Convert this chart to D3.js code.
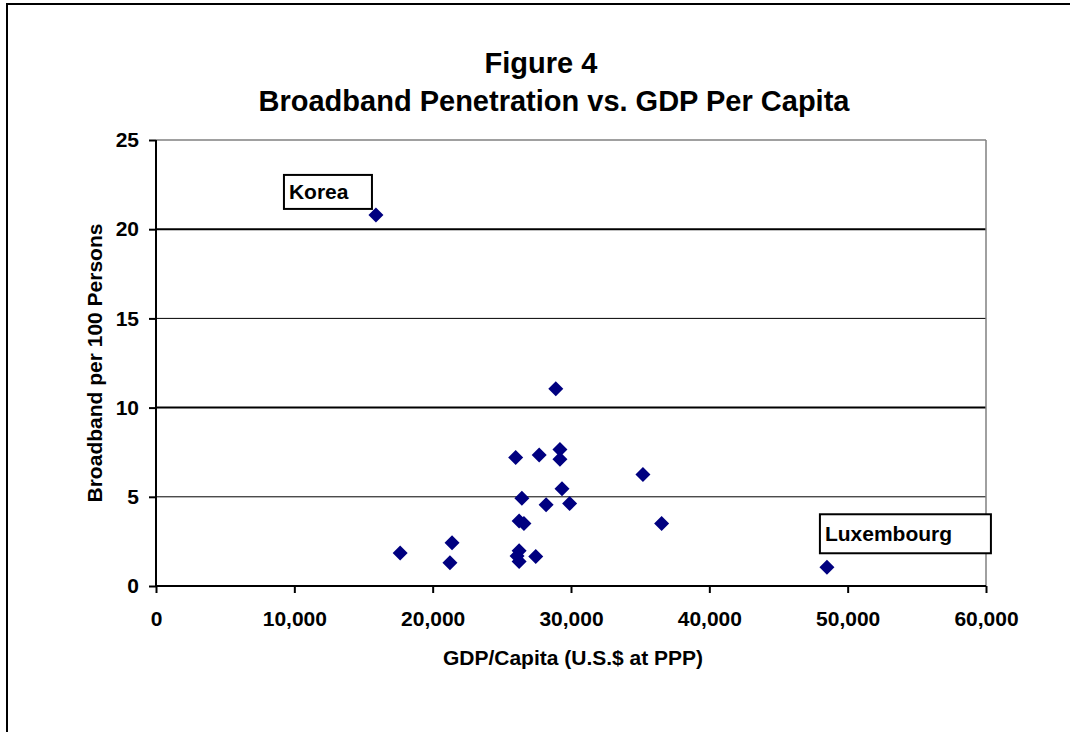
<!DOCTYPE html>
<html>
<head>
<meta charset="utf-8">
<script src="https://cdn.jsdelivr.net/npm/d3@7"></script>
<style>
  html, body { margin: 0; padding: 0; background: #fff; }
  svg { display: block; font-family: "Liberation Sans", Arial, sans-serif; }
</style>
</head>
<body>
<svg id="chart" width="1070" height="732"></svg>
<script>
// ---- Data ----
const gdpPerCapita = [15900, 48500, 28900, 29200, 29200, 27700, 26000, 35200, 29350, 26450,
                      28200, 29900, 26250, 26600, 36550, 17650, 21400, 21250, 26250, 26100,
                      26250, 27450];
const broadbandPer100 = [20.8, 1.05, 11.05, 7.65, 7.1, 7.35, 7.2, 6.25, 5.45, 4.92,
                         4.55, 4.62, 3.65, 3.5, 3.5, 1.85, 2.42, 1.3, 1.98, 1.68,
                         1.38, 1.65];
const xTicks = [0, 10000, 20000, 30000, 40000, 50000, 60000];
const yTicks = [0, 5, 10, 15, 20, 25];
const calloutNames = ["Korea", "Luxembourg"];
const calloutX = [15900, 48500];
const calloutY = [20.8, 1.05];
const titleLines = ["Figure 4", "Broadband Penetration vs. GDP Per Capita"];
const xTitle = "GDP/Capita (U.S.$ at PPP)";
const yTitle = "Broadband per 100 Persons";

(function () {
// ---- Layout ----
const svg = d3.select("#chart");
const pL = 156, pR = 986, pT = 140, pB = 586;
const x = d3.scaleLinear().domain([0, 60000]).range([pL, pR]);
const y = d3.scaleLinear().domain([0, 25]).range([pB, pT]);

svg.append("rect").attr("width", 1070).attr("height", 732).attr("fill", "#fff");
// outer chart frame (right/bottom edges fall outside the view)
svg.append("rect").attr("x", 7).attr("y", 4).attr("width", 1080).attr("height", 760)
  .attr("fill", "none").attr("stroke", "#000").attr("stroke-width", 2);

// titles
svg.append("text").attr("x", 541).attr("y", 72.5).attr("text-anchor", "middle")
  .attr("font-size", 29).attr("font-weight", "bold").text(titleLines[0]);
svg.append("text").attr("x", 554).attr("y", 110.5).attr("text-anchor", "middle")
  .attr("font-size", 29).attr("font-weight", "bold").text(titleLines[1]);

// gridlines
svg.append("g").selectAll("line").data(yTicks.filter(d => d > 0 && d < 25)).join("line")
  .attr("x1", pL).attr("x2", pR).attr("y1", d => y(d)).attr("y2", d => y(d))
  .attr("stroke", "#000").attr("stroke-width", d => (d % 10 === 0 ? 2 : 1));
// plot frame top/right (grey)
svg.append("line").attr("x1", pL).attr("x2", pR).attr("y1", y(25)).attr("y2", y(25))
  .attr("stroke", "#808080").attr("stroke-width", 1.5);
svg.append("line").attr("x1", pR).attr("x2", pR).attr("y1", pT).attr("y2", pB)
  .attr("stroke", "#808080").attr("stroke-width", 1.5);

// axes
const xAxis = d3.axisBottom(x).tickValues(xTicks).tickSize(7).tickPadding(18)
  .tickFormat(d3.format(","));
const gx = svg.append("g").attr("transform", `translate(0,${pB})`).call(xAxis);
const yAxis = d3.axisLeft(y).tickValues(yTicks).tickSize(7).tickPadding(10)
  .tickFormat(d3.format("d"));
const gy = svg.append("g").attr("transform", `translate(${pL},0)`).call(yAxis);
[gx, gy].forEach(g => {
  g.select(".domain").attr("stroke", "#000").attr("stroke-width", 2);
  g.selectAll(".tick line").attr("stroke", "#000").attr("stroke-width", 2);
  g.selectAll(".tick text").attr("fill", "#000").attr("font-size", 21)
    .attr("font-weight", "bold").attr("font-family", "Liberation Sans, Arial, sans-serif");
});
gx.select(".domain").attr("d", `M${pL},0H${pR}`);
gy.select(".domain").attr("d", `M0,${pB}V${pT}`);

// axis titles
svg.append("text").attr("x", 573).attr("y", 665).attr("text-anchor", "middle")
  .attr("font-size", 21).attr("font-weight", "bold").text(xTitle);
svg.append("text").attr("transform", `translate(102,${363}) rotate(-90)`)
  .attr("text-anchor", "middle").attr("font-size", 21).attr("font-weight", "bold").text(yTitle);

// points
const diamond = "M0,-7.5L7.5,0L0,7.5L-7.5,0Z";
svg.append("g").selectAll("path").data(gdpPerCapita.map((g, i) => [g, broadbandPer100[i]]))
  .join("path")
  .attr("transform", d => `translate(${x(d[0])},${y(d[1])})`)
  .attr("d", diamond).attr("fill", "#000080");

// callout boxes
const boxes = [
  { name: calloutNames[0], dx: -92, dy: -40, w: 88, h: 34 },
  { name: calloutNames[1], dx: -7, dy: -53, w: 171, h: 39 }
];
boxes.forEach((b, i) => {
  const px = x(calloutX[i]), py = y(calloutY[i]);
  svg.append("rect").attr("x", px + b.dx).attr("y", py + b.dy).attr("width", b.w).attr("height", b.h)
    .attr("fill", "#fff").attr("stroke", "#000").attr("stroke-width", 2);
  svg.append("text").attr("x", px + b.dx + 5).attr("y", py + b.dy + b.h / 2 + 7)
    .attr("font-size", 21).attr("font-weight", "bold").text(b.name);
});
})();
</script>
</body>
</html>
